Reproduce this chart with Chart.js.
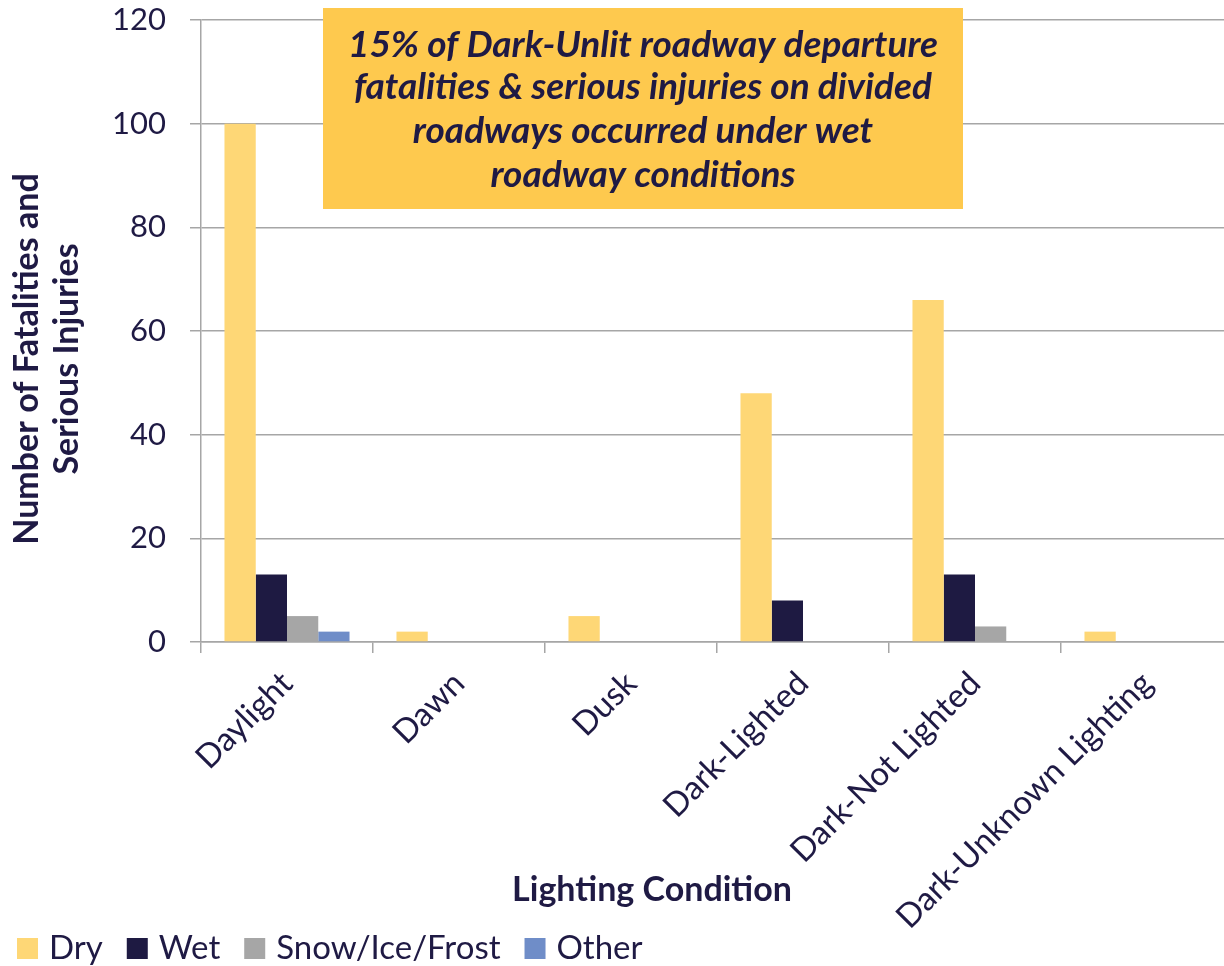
<!DOCTYPE html>
<html>
<head>
<meta charset="utf-8">
<script src="https://cdn.jsdelivr.net/npm/chart.js@4.4.1/dist/chart.umd.min.js"></script>
<style>
html,body{margin:0;padding:0;background:#fff;overflow:hidden;}
#wrap{width:1240px;height:966px;}
</style>
</head>
<body>
<div id="wrap"><canvas id="c" width="1240" height="966"></canvas></div>
<script>
const categories = ["Daylight", "Dawn", "Dusk", "Dark-Lighted", "Dark-Not Lighted", "Dark-Unknown Lighting"];
const dryValues = [100, 2, 5, 48, 66, 2];
const wetValues = [13, 0, 0, 8, 13, 0];
const snowValues = [5, 0, 0, 0, 3, 0];
const otherValues = [2, 0, 0, 0, 0, 0];
const seriesNames = ["Dry", "Wet", "Snow/Ice/Frost", "Other"];
const seriesColors = ["#FED776", "#1E1A42", "#A6A6A6", "#6F8DC8"];
const yTicks = [0, 20, 40, 60, 80, 100, 120];
const yTitleLines = ["Number of Fatalities and", "Serious Injuries"];
const xTitle = "Lighting Condition";
const noteLines = ["15% of Dark-Unlit roadway departure", "fatalities & serious injuries on divided", "roadways occurred under wet", "roadway conditions"];

const NAVY = "#1F1A44";
const GRID = "#A6A6A6";
const FONT = "Lato, 'Open Sans', sans-serif";

const extras = {
  id: "extras",
  afterDraw(chart) {
    const ctx = chart.ctx;
    ctx.save();
    // Y axis title
    ctx.fillStyle = NAVY;
    ctx.font = "bold 34px " + FONT;
    ctx.textAlign = "center";
    ctx.textBaseline = "middle";
    const yx = [27, 67];
    yTitleLines.forEach((t, i) => {
      ctx.save();
      ctx.translate(yx[i], 359);
      ctx.rotate(-Math.PI / 2);
      ctx.fillText(t, 0, 0);
      ctx.restore();
    });
    // X axis title
    ctx.fillText(xTitle, 652, 890);
    // Note box
    ctx.fillStyle = "#FEC94E";
    ctx.fillRect(323, 8, 640, 201);
    ctx.fillStyle = NAVY;
    ctx.font = "italic bold 37px " + FONT;
    const ly = [45, 87, 131, 175];
    noteLines.forEach((t, i) => ctx.fillText(t, 643, ly[i]));
    // Legend (from the chart's datasets)
    ctx.font = "33px " + FONT;
    ctx.textAlign = "left";
    let x = 17;
    chart.data.datasets.forEach(ds => {
      ctx.fillStyle = ds.backgroundColor;
      ctx.fillRect(x, 938, 21, 21);
      ctx.fillStyle = NAVY;
      ctx.fillText(ds.label, x + 32, 948);
      x += 32 + ctx.measureText(ds.label).width + 24;
    });
    ctx.restore();
  }
};

const datasets = [dryValues, wetValues, snowValues, otherValues].map((vals, i) => ({
  label: seriesNames[i],
  data: vals,
  backgroundColor: seriesColors[i],
  borderWidth: 0
}));

new Chart(document.getElementById("c"), {
  type: "bar",
  data: { labels: categories, datasets },
  options: {
    responsive: false,
    animation: false,
    devicePixelRatio: 1,
    layout: { padding: { top: 0, right: 7, left: 0, bottom: 0 } },
    datasets: { bar: { categoryPercentage: 0.727, barPercentage: 1.0 } },
    plugins: {
      legend: { display: false },
      tooltip: { enabled: false }
    },
    scales: {
      x: {
        offset: true,
        grid: { display: true, drawOnChartArea: false, offset: true, color: GRID, lineWidth: 1.5, tickLength: 11 },
        border: { color: GRID, width: 1.5 },
        ticks: {
          color: NAVY,
          font: { family: FONT, size: 33 },
          maxRotation: 45,
          minRotation: 45,
          padding: 11
        },
        afterFit(scale) { scale.height = 324; }
      },
      y: {
        min: 0,
        max: 120,
        afterBuildTicks(scale) { scale.ticks = yTicks.map(v => ({ value: v })); },
        grid: { color: GRID, lineWidth: 1.5, tickLength: 11 },
        border: { color: GRID, width: 1.5 },
        ticks: {
          color: NAVY,
          font: { family: FONT, size: 31 },
          padding: 24
        },
        afterFit(scale) {
          scale.width = 201;
          scale.paddingTop = 20;
          scale.paddingBottom = 0;
        }
      }
    }
  },
  plugins: [extras]
});
</script>
</body>
</html>
